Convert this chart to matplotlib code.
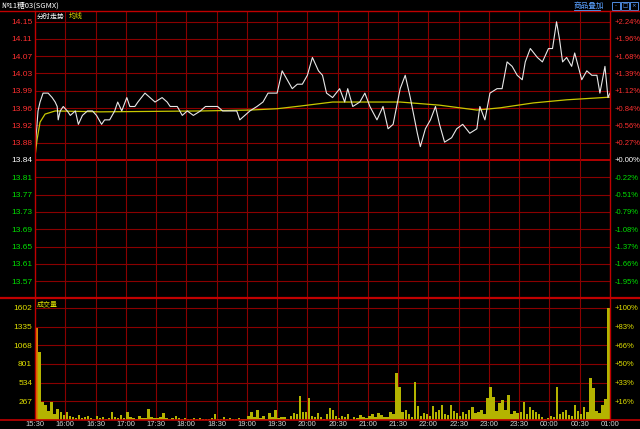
import numpy as np
import matplotlib
matplotlib.use('Agg')
import matplotlib.pyplot as plt
from matplotlib.lines import Line2D

plt.rcParams['font.family'] = ['Liberation Sans', 'Noto Sans CJK SC']

# --- data (minutes after 15:30) ---
prev_close = 13.84
price_min = [0, 1, 3, 5, 8, 13, 17, 20, 22, 23, 25, 28, 32, 35, 40, 43, 47, 52, 57, 61,
             66, 69, 74, 79, 82, 86, 91, 94, 99, 102, 109, 114, 119, 126, 131, 134, 141, 146, 151, 157,
             164, 169, 175, 181, 186, 193, 200, 203, 208, 213, 220, 226, 231, 240, 245, 250, 255, 260, 265, 270,
             275, 281, 285, 289, 295, 302, 307, 310, 315, 322, 327, 332, 339, 345, 350, 355, 362, 367, 372, 379,
             382, 387, 392, 397, 401, 406, 413, 418, 424, 431, 438, 441, 446, 451, 458, 463, 468, 473, 478, 483,
             486, 491, 498, 503, 509, 513, 517, 520, 523, 527, 532, 535, 542, 547, 552, 557, 560, 565, 568, 570]
price = [13.85, 13.89, 13.95, 13.97, 13.99, 13.99, 13.98, 13.97, 13.96, 13.93, 13.95, 13.96, 13.95, 13.94, 13.95, 13.92, 13.94, 13.95, 13.95, 13.94,
         13.92, 13.93, 13.93, 13.95, 13.97, 13.95, 13.98, 13.96, 13.96, 13.97, 13.99, 13.98, 13.97, 13.98, 13.97, 13.96, 13.96, 13.94, 13.95, 13.94,
         13.95, 13.96, 13.96, 13.96, 13.95, 13.95, 13.95, 13.93, 13.94, 13.95, 13.96, 13.97, 13.99, 13.99, 14.04, 14.02, 14.00, 14.01, 14.01, 14.03,
         14.07, 14.04, 14.03, 13.99, 13.98, 14.00, 13.97, 14.00, 13.96, 13.97, 13.99, 13.96, 13.93, 13.96, 13.91, 13.92, 14.00, 14.03, 13.98, 13.90,
         13.87, 13.91, 13.93, 13.96, 13.92, 13.88, 13.89, 13.91, 13.92, 13.90, 13.91, 13.96, 13.93, 13.99, 14.00, 14.00, 14.06, 14.05, 14.03, 14.02,
         14.06, 14.09, 14.07, 14.06, 14.09, 14.09, 14.15, 14.11, 14.06, 14.07, 14.05, 14.08, 14.02, 14.04, 14.03, 14.03, 13.99, 14.05, 13.98, 13.99]

avg_min = [0, 2, 5, 10, 20, 65, 165, 213, 240, 263, 295, 362, 401, 438, 461, 494, 527, 570]
avg_price = [13.847, 13.885, 13.925, 13.943, 13.950, 13.948, 13.950, 13.952, 13.955, 13.961,
             13.970, 13.970, 13.963, 13.952, 13.957, 13.968, 13.975, 13.981]

# volume per 3-minute bin
volume = [1320, 970, 260, 210, 130, 260, 90, 160, 120, 70,
          115, 60, 40, 30, 70, 25, 50, 60, 35, 20,
          60, 30, 45, 20, 30, 115, 40, 25, 70, 30,
          115, 40, 30, 20, 60, 35, 25, 160, 50, 30,
          25, 40, 100, 30, 20, 35, 60, 25, 15, 30,
          20, 15, 30, 10, 25, 15, 20, 10, 30, 85,
          20, 15, 40, 10, 25, 15, 10, 30, 20, 15,
          60, 115, 40, 145, 30, 60, 20, 100, 40, 145,
          30, 50, 40, 20, 60, 100, 80, 340, 120, 115,
          310, 60, 50, 100, 40, 20, 80, 170, 140, 60,
          30, 60, 40, 90, 20, 50, 30, 70, 40, 30,
          60, 80, 40, 100, 70, 50, 40, 110, 90, 670,
          470, 110, 150, 80, 40, 540, 200, 60, 100, 80,
          60, 200, 110, 150, 215, 90, 70, 215, 130, 100,
          60, 110, 90, 150, 180, 100, 120, 150, 90, 310,
          470, 330, 130, 250, 285, 150, 355, 90, 130, 100,
          110, 260, 90, 185, 150, 120, 80, 40, 20, 30,
          60, 40, 470, 80, 120, 150, 70, 60, 215, 130,
          90, 185, 120, 600, 460, 130, 100, 210, 300, 1600]

price_labels = ['14.15', '14.11', '14.07', '14.03', '13.99', '13.96', '13.92', '13.88', '13.84',
                '13.81', '13.77', '13.73', '13.69', '13.65', '13.61', '13.57']
pct_labels = ['+2.24%', '+1.96%', '+1.68%', '+1.39%', '+1.12%', '+0.84%', '+0.56%', '+0.27%', '+0.00%',
              '-0.22%', '-0.51%', '-0.79%', '-1.08%', '-1.37%', '-1.66%', '-1.95%']
vol_labels = ['267', '534', '801', '1068', '1335', '1602']
vol_pct_labels = ['+16%', '+33%', '+50%', '+66%', '+83%', '+100%']
time_labels = ['15:30', '16:00', '16:30', '17:00', '17:30', '18:00', '18:30', '19:00', '19:30', '20:00',
               '20:30', '21:00', '21:30', '22:00', '22:30', '23:00', '23:30', '00:00', '00:30', '01:00']

# --- colours ---
RED = '#ff3030'
GREEN = '#00e000'
GRID = '#8a0000'
BORDER = '#c00000'
YEL = '#e0e000'
CJK = ['Noto Sans CJK SC', 'DejaVu Sans']

W, H = 640, 429
fig = plt.figure(figsize=(6.4, 4.29), dpi=100, facecolor='black')

def fx(px):
    return px / W

def fy(py):
    return 1 - py / H

step = 0.0388
px_per = step / 17.3
ax = fig.add_axes([fx(35), fy(298), fx(575), (298 - 11) / H], facecolor='black')
ax.set_xlim(0, 570)
ax.set_ylim(prev_close - 138 * px_per, prev_close + 149 * px_per)
ticks = [prev_close + step * k for k in range(8, -8, -1)]

for t in ticks:
    if abs(t - prev_close) < 1e-9:
        ax.axhline(t, color=BORDER, lw=1.3, zorder=1)
    else:
        ax.axhline(t, color=GRID, lw=0.8, zorder=1)
for m in range(30, 570, 30):
    ax.axvline(m, color=GRID, lw=0.8, zorder=1)

ax.plot(price_min, price, color='#e8e8e8', lw=0.8, zorder=3)
ax.plot(avg_min, avg_price, color='#c8c800', lw=0.9, zorder=2)

ax.set_yticks(ticks)
ax.set_yticklabels(price_labels)
ax.set_xticks([])
ax.tick_params(axis='y', length=0, pad=2, labelsize=6)
for lab, t in zip(ax.get_yticklabels(), ticks):
    lab.set_color('white' if abs(t - prev_close) < 1e-9 else (RED if t > prev_close else GREEN))

axr = ax.twinx()
axr.set_ylim(ax.get_ylim())
axr.set_yticks(ticks)
axr.set_yticklabels(pct_labels)
axr.tick_params(axis='y', length=0, pad=3, labelsize=5.5)
for lab, t in zip(axr.get_yticklabels(), ticks):
    lab.set_color('white' if abs(t - prev_close) < 1e-9 else (RED if t > prev_close else GREEN))

for a in (ax, axr):
    for s in a.spines.values():
        s.set_visible(False)

ax.text(2, 0.995, '分时走势', transform=ax.get_xaxis_transform(), color='white',
        fontsize=5, va='top', ha='left', family=CJK)
ax.text(33, 0.995, '均线', transform=ax.get_xaxis_transform(), color='#e0e000',
        fontsize=5, va='top', ha='left', family=CJK)

# --- volume panel ---
axv = fig.add_axes([fx(35), fy(420), fx(575), (420 - 298) / H], facecolor='black')
axv.set_xlim(0, 570)
axv.set_ylim(0, 1745)
vticks = [267 * k for k in range(1, 7)]
for v in vticks:
    axv.axhline(v, color=GRID, lw=0.8, zorder=1)
for m in range(30, 570, 30):
    axv.axvline(m, color=GRID, lw=0.8, zorder=1)

centers = np.arange(len(volume)) * 3 + 1.5
colors = ['#b4b400'] * len(volume)
colors[0] = '#d88000'
axv.bar(centers, volume, width=2.4, color=colors, zorder=2)

axv.set_yticks(vticks)
axv.set_yticklabels(vol_labels)
axv.tick_params(axis='y', length=0, pad=2, labelsize=6, colors=YEL)
axv.set_xticks(range(0, 571, 30))
axv.set_xticklabels(time_labels)
axv.tick_params(axis='x', length=0, pad=0.5, labelsize=5.5, colors='#d0d0d0')

axvr = axv.twinx()
axvr.set_ylim(axv.get_ylim())
axvr.set_yticks(vticks)
axvr.set_yticklabels(vol_pct_labels)
axvr.tick_params(axis='y', length=0, pad=3, labelsize=5.5, colors=YEL)
for a in (axv, axvr):
    for s in a.spines.values():
        s.set_visible(False)

axv.text(2, 0.985, '成交量', transform=axv.get_xaxis_transform(), color=YEL,
         fontsize=5, va='top', ha='left', family=CJK)

# --- frame lines ---
for py, lw in ((11, 1.0), (298, 1.6), (420, 1.2)):
    fig.add_artist(Line2D([0, 1], [fy(py), fy(py)], color=BORDER, lw=lw))
for px in (35, 610):
    fig.add_artist(Line2D([fx(px), fx(px)], [fy(11), fy(420)], color=BORDER, lw=1.0))

fig.text(fx(2), fy(5.5), '№11糖03(SGMX)', color='white', fontsize=5.5,
         va='center', ha='left', family=CJK)
fig.text(fx(574), fy(5.5), '商品叠加', color='#5aa0ff', fontsize=5.5,
         va='center', ha='left', family=CJK)
fig.add_artist(Line2D([fx(574), fx(600)], [fy(10), fy(10)], color='#5aa0ff', lw=0.6))
for i, s in enumerate(['-', '□', '×']):
    x0 = 612 + i * 9
    fig.add_artist(plt.Rectangle((fx(x0), fy(10)), fx(8), 8 / H, fill=False,
                                 edgecolor='#5aa0ff', lw=0.6))
    fig.text(fx(x0 + 4), fy(6), s, color='#5aa0ff', fontsize=4, ha='center', va='center',
             family=['DejaVu Sans'])

fig.savefig('out.png', dpi=100, facecolor='black')
